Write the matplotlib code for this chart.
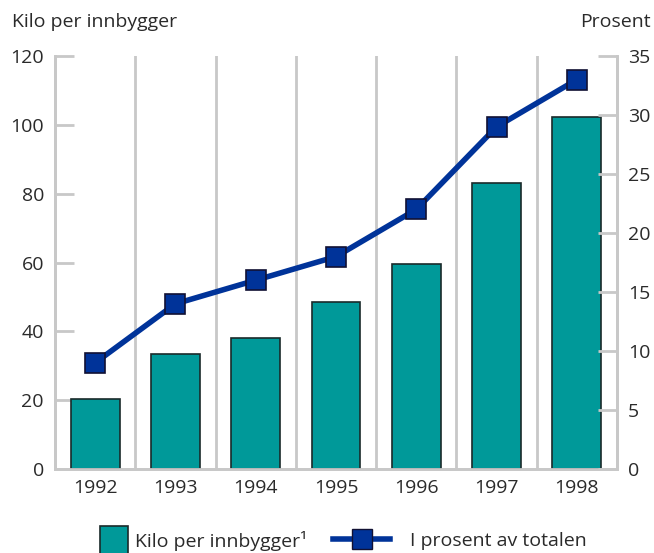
import matplotlib
matplotlib.use("Agg")
import matplotlib.pyplot as plt
from matplotlib.lines import Line2D

years = ["1992", "1993", "1994", "1995", "1996", "1997", "1998"]
kilo = [20.4, 33.4, 38.1, 48.4, 59.6, 83.1, 102.2]
prosent = [9.0, 14.0, 16.0, 18.0, 22.0, 29.0, 33.0]
left_ticks = [0, 20, 40, 60, 80, 100, 120]
right_ticks = [0, 5, 10, 15, 20, 25, 30, 35]

plt.rcParams['font.family'] = ['Open Sans', 'DejaVu Sans']
TEXT = '#2a2a2a'
GREY = '#c8c8c8'
TEAL = '#009999'
BLUE = '#003399'
FS = 14

fig = plt.figure(figsize=(6.54, 5.53), dpi=100)
ax = fig.add_axes([0.0841, 0.1519, 0.8593, 0.7468])
ax2 = ax.twinx()

x = list(range(len(years)))
ax.bar(x, kilo, width=0.61, color=TEAL, edgecolor='#1a2a2a', linewidth=1.2, zorder=3)
ax.set_xlim(-0.5, len(years) - 0.5)
ax.set_ylim(0, 120)
ax.set_yticks(left_ticks)
ax.set_xticks(x)
ax.set_xticklabels(years)
ax.set_xticks([i + 0.5 for i in x[:-1]], minor=True)
ax.grid(axis='x', which='minor', color=GREY, linewidth=2, zorder=0)
ax.tick_params(axis='x', which='both', length=0, labelsize=FS, labelcolor=TEXT, pad=7)
ax.tick_params(axis='y', direction='in', length=14, width=2, color=GREY,
               labelsize=FS, labelcolor=TEXT, pad=8)

ax2.plot(x, prosent, color=BLUE, linewidth=4, marker='s', markersize=15,
         markerfacecolor=BLUE, markeredgecolor='#111133', markeredgewidth=1.2, zorder=4)
ax2.set_ylim(0, 35)
ax2.set_yticks(right_ticks)
ax2.tick_params(axis='y', direction='in', length=14, width=2, color=GREY,
                labelsize=FS, labelcolor=TEXT, pad=8)

for a in (ax, ax2):
    a.spines['top'].set_visible(False)
    for s in ('left', 'right', 'bottom'):
        a.spines[s].set_color(GREY)
        a.spines[s].set_linewidth(2)

fig.text(12/654, 1 - 22/553, "Kilo per innbygger", fontsize=FS, color=TEXT,
         ha='left', va='center')
fig.text(651/654, 1 - 22/553, "Prosent", fontsize=FS, color=TEXT,
         ha='right', va='center')

leg_y = 1 - 541/553
h1 = Line2D([0], [0], linestyle='none', marker='s', markersize=20,
            markerfacecolor=TEAL, markeredgecolor='#1a2a2a', markeredgewidth=1.2)
leg1 = fig.legend([h1], ["Kilo per innbygger\u00b9"], loc='center left',
                  bbox_to_anchor=(100/654, leg_y), frameon=False, fontsize=FS,
                  handlelength=1.4, handletextpad=0.4, borderpad=0, borderaxespad=0)
h2 = Line2D([0], [0], color=BLUE, linewidth=4, marker='s', markersize=15,
            markerfacecolor=BLUE, markeredgecolor='#111133')
leg2 = fig.legend([h2], ["I prosent av totalen"], loc='center left',
                  bbox_to_anchor=(333/654, leg_y), frameon=False, fontsize=FS,
                  handlelength=2.94, handletextpad=1.0, borderpad=0, borderaxespad=0)
for leg in (leg1, leg2):
    for t in leg.get_texts():
        t.set_color(TEXT)

fig.savefig("out.png", dpi=100)
